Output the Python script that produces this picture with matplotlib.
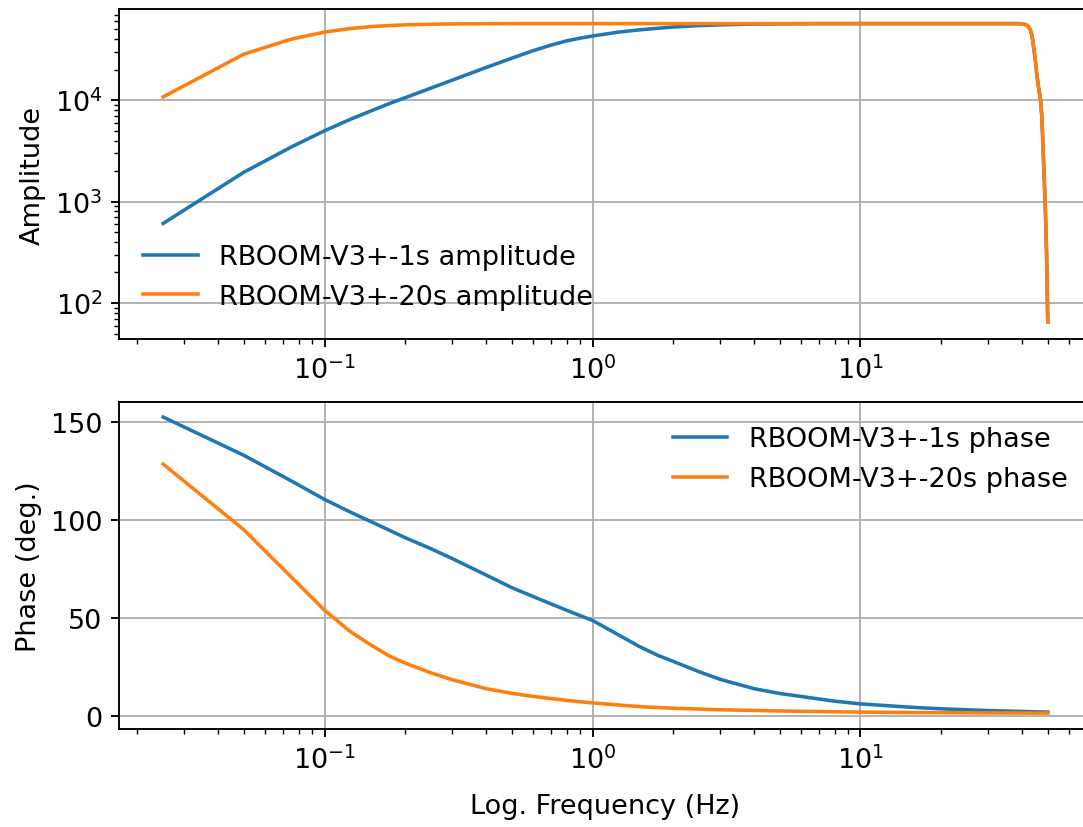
import numpy as np
import matplotlib
matplotlib.use("Agg")
import matplotlib.pyplot as plt

# =========================
# Valores
# =========================
freq_amp_1s = [0.025, 0.05, 0.075, 0.1, 0.125, 0.15, 0.175, 0.2, 0.25, 0.3, 0.4,
               0.5, 0.6, 0.7, 0.8, 0.9, 1.0, 1.25, 1.5, 2.0, 2.5, 3.0, 4.0, 5.0,
               7.0, 10.0, 20.0, 38.0, 40.0, 41.0, 42.0, 43.0, 43.5, 44.0, 45.0,
               45.5, 46.0, 47.0, 47.5, 48.0, 48.5, 49.0, 49.5, 50.0]
amp_1s = [610, 1950, 3450, 5000, 6500, 7900, 9300, 10600, 13200, 15800, 21000,
          26000, 30800, 35000, 38500, 41000, 43000, 47000, 49500, 52800, 54500,
          55500, 56400, 56700, 57000, 57000, 57000, 57000, 56800, 56000, 54500,
          50000, 45000, 38000, 24000, 18000, 14500, 10000, 7000, 3500, 1700, 800,
          300, 65]

freq_amp_20s = [0.025, 0.05, 0.075, 0.1, 0.125, 0.15, 0.175, 0.2, 0.25, 0.3, 0.4,
                0.5, 1.0, 10.0, 20.0, 38.0, 40.0, 41.0, 42.0, 43.0, 43.5, 44.0,
                45.0, 45.5, 46.0, 47.0, 47.5, 48.0, 48.5, 49.0, 49.5, 50.0]
amp_20s = [10800, 28500, 40000, 47000, 51000, 53300, 54600, 55400, 56200, 56600,
           56900, 57000, 57000, 57000, 57000, 57000, 56800, 56000, 54500, 50000,
           45000, 38000, 24000, 18000, 14500, 10000, 7000, 3500, 1700, 800, 300, 65]

freq_ph_1s = [0.025, 0.05, 0.075, 0.1, 0.125, 0.15, 0.175, 0.2, 0.25, 0.3, 0.4,
              0.5, 0.6, 0.7, 0.8, 0.9, 1.0, 1.25, 1.5, 1.75, 2.0, 2.5, 3.0, 4.0,
              5.0, 6.0, 8.0, 10.0, 15.0, 20.0, 30.0, 50.0]
phase_1s = [152.5, 133, 120, 110.5, 104, 99, 94.7, 91, 85.3, 80.3, 72, 65.5, 61,
            57.2, 54, 51.2, 48.8, 41.4, 35.4, 31, 27.9, 22.6, 18.7, 14, 11.5, 10,
            7.6, 6.2, 4.6, 3.7, 2.8, 2.0]

freq_ph_20s = [0.025, 0.05, 0.075, 0.1, 0.125, 0.15, 0.175, 0.2, 0.25, 0.3, 0.4,
               0.5, 0.6, 0.8, 1.0, 1.5, 2.0, 3.0, 5.0, 10.0, 20.0, 50.0]
phase_20s = [128.5, 95, 71, 54, 43, 36, 30.5, 27, 22, 18.5, 14, 11.6, 10, 8, 6.7,
             4.8, 4.0, 3.2, 2.6, 2.0, 1.7, 1.5]

labels = ["RBOOM-V3+-1s", "RBOOM-V3+-20s"]

plt.rcParams["font.size"] = 11.5

# =========================
# Figura
# =========================
fig = plt.figure(figsize=(1083 / 170, 828 / 170), dpi=170)
ax1 = fig.add_axes([119 / 1083, (828 - 340) / 828, 973 / 1083, 330 / 828])
ax2 = fig.add_axes([119 / 1083, (828 - 730) / 828, 973 / 1083, 327 / 828])

# Plot 1 — amplitude
ax1.loglog(freq_amp_1s, amp_1s, label=f"{labels[0]} amplitude")
ax1.loglog(freq_amp_20s, amp_20s, label=f"{labels[1]} amplitude")
ax1.set_ylabel("Amplitude")
ax1.set_ylim(10 ** 1.645, 10 ** 4.9)
ax1.grid(True)
ax1.legend(loc="lower left", frameon=False, bbox_to_anchor=(0, 0.015))

# Plot 2 — fase
ax2.semilogx(freq_ph_1s, phase_1s, label=f"{labels[0]} phase")
ax2.semilogx(freq_ph_20s, phase_20s, label=f"{labels[1]} phase")
ax2.set_ylabel("Phase (deg.)")
ax2.set_xlabel("Log. Frequency (Hz)", labelpad=8)
ax2.set_ylim(-6.6, 160.2)
ax2.grid(True)
ax2.legend(loc="upper right", frameon=False)

fig.savefig("out.png", dpi=170)
